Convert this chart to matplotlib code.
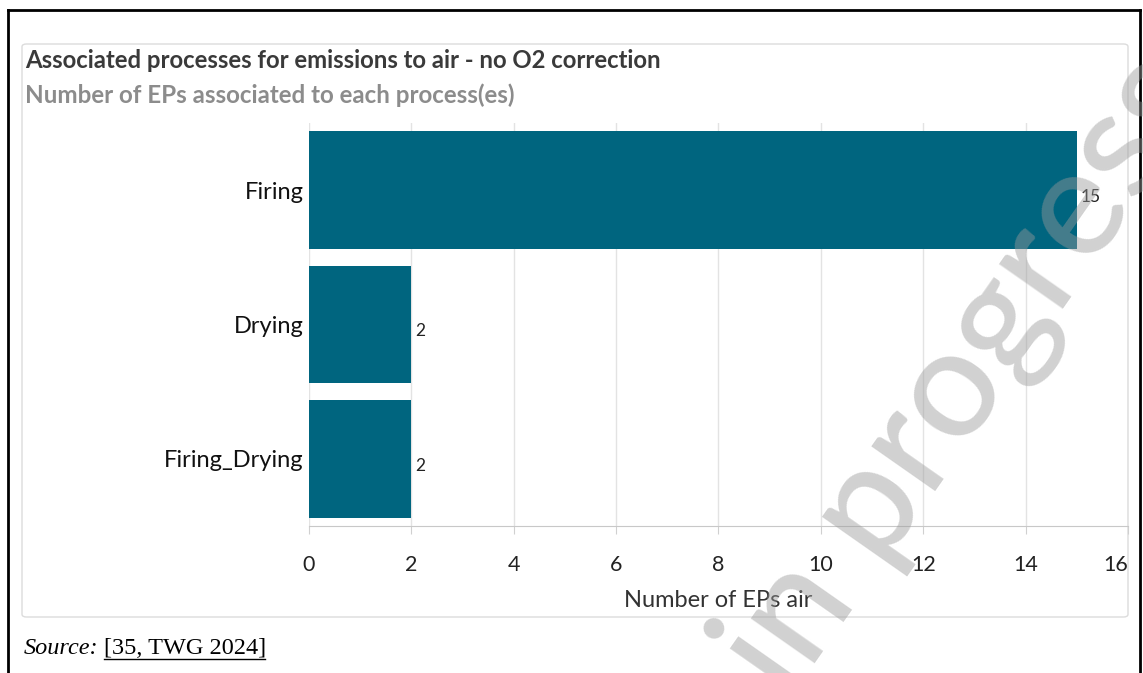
import matplotlib.pyplot as plt
from matplotlib.patches import FancyBboxPatch
from matplotlib.lines import Line2D

categories = ['Firing', 'Drying', 'Firing_Drying']
counts = [15, 2, 2]
xticks = [0, 2, 4, 6, 8, 10, 12, 14, 16]

W, H = 1143, 673
BAR = '#00657f'
FONT = 'Lato'

fig = plt.figure(figsize=(W / 100, H / 100), dpi=100)


def px(x, y):
    return x / W, 1 - y / H


# outer page border
for xs, ys in [((8, 8), (10, H)), ((8, 1140), (10, 10)), ((1140, 1140), (10, H))]:
    fig.add_artist(Line2D([x / W for x in xs], [1 - y / H for y in ys], color='black', lw=2))

# light card around the chart
x0, y0 = px(22, 617)
x1, y1 = px(1128, 44)
card = FancyBboxPatch((x0, y0), x1 - x0, y1 - y0, boxstyle='round,pad=0,rounding_size=0.004',
                      fc='white', ec='#dcdcdc', lw=1, transform=fig.transFigure, zorder=-5)
fig.add_artist(card)

ax = fig.add_axes([309 / W, 1 - 526 / H, (1128 - 309) / W, (526 - 123) / H])
ax.set_zorder(2)
ax.patch.set_visible(False)
ax.barh(categories, counts, height=0.875, color=BAR, zorder=2)
ax.set_ylim(2.5, -0.5)
ax.set_xlim(0, 16)
ax.set_xticks(xticks)
ax.grid(axis='x', color='#e3e3e3', lw=1, zorder=0)
for s in ['top', 'right', 'left']:
    ax.spines[s].set_visible(False)
ax.spines['bottom'].set_color('#c8c8c8')
ax.tick_params(axis='x', length=6, color='#d0d0d0', labelsize=15.5, pad=15, labelcolor='#222222')
ax.tick_params(axis='y', length=0, labelsize=17, pad=4, labelcolor='#111111')
for lab in ax.get_xticklabels() + ax.get_yticklabels():
    lab.set_fontfamily(FONT)
ax.get_xticklabels()[-1].set_horizontalalignment('right')
ax.set_xlabel('Number of EPs air', fontsize=17, family=FONT, color='#333333', labelpad=11)
for i, v in enumerate(counts):
    ax.text(v + 0.08, i + 0.05, str(v), va='center', ha='left', fontsize=12.5, family=FONT, color='#222222')

fig.text(25 / W, 1 - 61 / H, 'Associated processes for emissions to air - no O2 correction',
         fontsize=17.2, fontweight='bold', family=FONT, color='#3a3a3a', va='center')
fig.text(25 / W, 1 - 95 / H, 'Number of EPs associated to each process(es)',
         fontsize=17.4, fontweight='bold', family=FONT, color='#8c8c8c', va='center')

fig.text(24 / W, 1 - 648 / H, 'Source:', fontsize=17.5, style='italic', family='Liberation Serif', va='center')
fig.text(104 / W, 1 - 648 / H, '[35, TWG 2024]', fontsize=17.5, family='Liberation Serif', va='center')
fig.add_artist(Line2D([104 / W, 265 / W], [1 - 659 / H] * 2, color='black', lw=1))

# watermark
fig.text(965 / W, 1 - 375 / H, 'in progress', fontsize=110, fontweight='medium', family=FONT,
         color='#9a9a9a', alpha=0.45, rotation=55, ha='center', va='center', zorder=10)

fig.savefig('out.png', dpi=100)
